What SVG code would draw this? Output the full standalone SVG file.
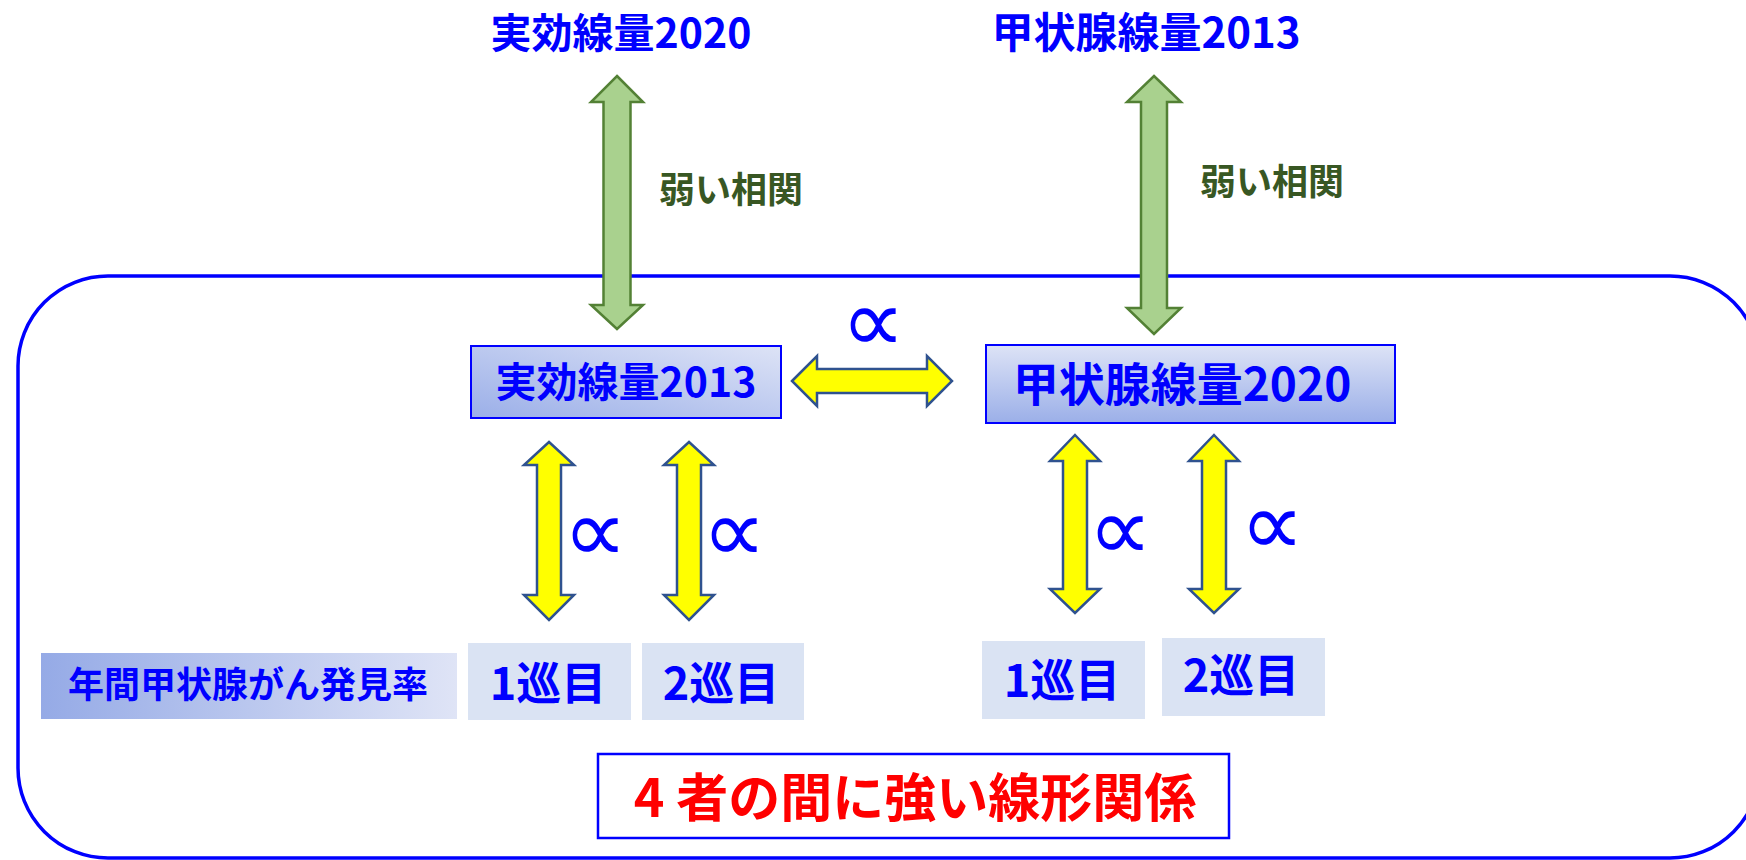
<svg xmlns="http://www.w3.org/2000/svg" width="1746" height="860" viewBox="0 0 1746 860">
<defs>
<linearGradient id="gDiag" x1="0" y1="1" x2="1" y2="0">
<stop offset="0" stop-color="#9bafe8"/>
<stop offset="1" stop-color="#dde3f6"/>
</linearGradient>
<linearGradient id="gVert" x1="0" y1="0" x2="0" y2="1">
<stop offset="0" stop-color="#dde3f6"/>
<stop offset="1" stop-color="#9bafe8"/>
</linearGradient>
<linearGradient id="gHorz" x1="0" y1="0" x2="1" y2="0">
<stop offset="0" stop-color="#95aae6"/>
<stop offset="1" stop-color="#dfe4f6"/>
</linearGradient>
<style>
.t{font-family:"Noto Sans CJK JP","Noto Sans",sans-serif;font-weight:bold;text-anchor:middle}
.blue{fill:#0000ff}
.green{fill:#385723}
.prop{font-family:"DejaVu Sans",sans-serif;font-weight:200;fill:#0000ff;text-anchor:middle;font-size:90px}
.ga{fill:#a9d18e;stroke:#538135;stroke-width:2.5;stroke-linejoin:miter}
.ya{fill:#ffff00;stroke:#2f528f;stroke-width:2.5;stroke-linejoin:miter}
.pale{fill:#dae3f3}
.nb{stroke:#0000ff;stroke-width:2}
</style>
</defs>
<g id="frame">
<rect x="18" y="276" width="1742" height="582" rx="90" ry="90" fill="none" stroke="#0000ff" stroke-width="3.5"/>
</g>
<g id="title-eff2020"><text class="t blue" x="621" y="48" font-size="41">実効線量2020</text></g>
<g id="title-thy2013"><text class="t blue" x="1146" y="48" font-size="42">甲状腺線量2013</text></g>
<g id="node-eff2013">
<rect class="nb" x="471" y="346" width="310" height="72" fill="url(#gDiag)"/>
<text class="t blue" x="626" y="397" font-size="41">実効線量2013</text>
</g>
<g id="node-thy2020">
<rect class="nb" x="986" y="345" width="409" height="78" fill="url(#gVert)"/>
<text class="t blue" x="1182" y="401" font-size="46">甲状腺線量2020</text>
</g>
<g id="node-rate">
<rect x="41" y="653" width="416" height="66" fill="url(#gHorz)"/>
<text class="t blue" x="248" y="698" font-size="36">年間甲状腺がん発見率</text>
</g>
<g id="node-l1">
<rect class="pale" x="468" y="643" width="163" height="77"/>
<text class="t blue" x="548" y="700" font-size="45">1巡目</text>
</g>
<g id="node-l2">
<rect class="pale" x="642" y="643" width="162" height="77"/>
<text class="t blue" x="721" y="700" font-size="45">2巡目</text>
</g>
<g id="node-r1">
<rect class="pale" x="982" y="641" width="163" height="78"/>
<text class="t blue" x="1062" y="697" font-size="45">1巡目</text>
</g>
<g id="node-r2">
<rect class="pale" x="1162" y="638" width="163" height="78"/>
<text class="t blue" x="1241" y="692" font-size="45">2巡目</text>
</g>
<g id="node-summary">
<rect x="598" y="754" width="631" height="84" fill="#ffffff" stroke="#0000ff" stroke-width="2.5"/>
<text class="t" x="915" y="817" font-size="52" fill="#ff0000">4 者の間に強い線形関係</text>
</g>
<g id="connectors">
<polygon class="ga" points="617,76 643,102 630.5,102 630.5,305 643,305 617,329 591,305 603.5,305 603.5,102 591,102"/>
<polygon class="ga" points="1154,76 1181,102 1167,102 1167,308 1181,308 1154,334 1127,308 1141,308 1141,102 1127,102"/>
<text class="t green" x="731" y="203" font-size="36">弱い相関</text>
<text class="t green" x="1272" y="195" font-size="36">弱い相関</text>
<polygon class="ya" points="792,381 817,356 817,369 927,369 927,356 952,381 927,406 927,393 817,393 817,406"/>
<text class="prop" x="873" y="352">∝</text>
<polygon class="ya" points="549,442 574,465 561,465 561,595 574,595 549,620 524,595 537,595 537,465 524,465"/>
<polygon class="ya" points="689,442 714,465 701,465 701,595 714,595 689,620 664,595 677,595 677,465 664,465"/>
<polygon class="ya" points="1075,435 1100,461 1087,461 1087,589 1100,589 1075,613 1050,589 1063,589 1063,461 1050,461"/>
<polygon class="ya" points="1214,435 1239,461 1226,461 1226,589 1239,589 1214,613 1189,589 1202,589 1202,461 1189,461"/>
<text class="prop" x="595" y="562">∝</text>
<text class="prop" x="734" y="562">∝</text>
<text class="prop" x="1120" y="560">∝</text>
<text class="prop" x="1272" y="555">∝</text>
</g>
</svg>
